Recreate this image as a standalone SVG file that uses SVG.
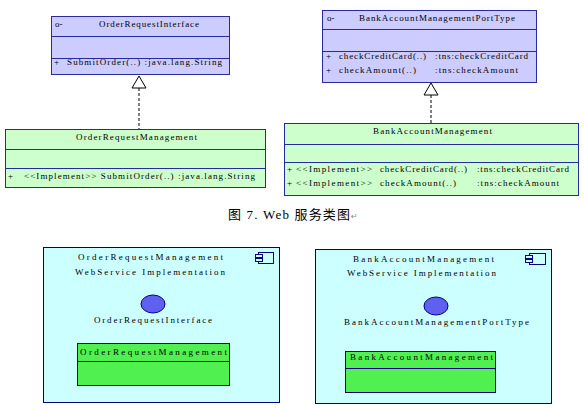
<svg xmlns="http://www.w3.org/2000/svg" width="584" height="410" viewBox="0 0 584 410">
<style>
.bg{fill:#ffffff}
.iface{fill:#ccccff;stroke:#2a2aa0;stroke-width:1}
.impl{fill:#ccffcc;stroke:#2a2aa0;stroke-width:1}
.sep{stroke:#2a2aa0;stroke-width:1}
.comp{fill:#ccffff;stroke:#000080;stroke-width:1}
.inner{fill:#50f050;stroke:#000080;stroke-width:1}
.ball{fill:#6060f0;stroke:#000080;stroke-width:1}
.icon{fill:#ccffff;stroke:#000080;stroke-width:1}
.t{font-family:"Liberation Serif","DejaVu Serif",serif;font-size:9px;fill:#000}
.cap{font-family:"Liberation Serif","Noto Sans CJK SC",serif;font-size:13px;fill:#000}
.conn{stroke:#000;stroke-width:1;fill:none}
.dash{stroke-dasharray:3,2}
.tri{fill:#fff;stroke:#000;stroke-width:1}
</style>
<rect class="bg" x="0" y="0" width="584" height="410"/>

<g id="OrderRequestInterface">
<rect class="iface" x="51.5" y="16.5" width="178" height="58"/>
<line class="sep" x1="51.5" y1="36.5" x2="229.5" y2="36.5"/>
<line class="sep" x1="51.5" y1="58.5" x2="229.5" y2="58.5"/>
<text class="t" x="55" y="27">o-</text>
<text class="t" x="99" y="27" textLength="100" lengthAdjust="spacing">OrderRequestInterface</text>
<text class="t" x="54" y="65">+</text>
<text class="t" x="67" y="65" textLength="155" lengthAdjust="spacing">SubmitOrder(..)  :java.lang.String</text>
</g>

<g id="OrderRequestManagement">
<rect class="impl" x="5.5" y="129.5" width="260" height="58"/>
<line class="sep" x1="5.5" y1="149.5" x2="265.5" y2="149.5"/>
<line class="sep" x1="5.5" y1="168.5" x2="265.5" y2="168.5"/>
<text class="t" x="76" y="140" textLength="121" lengthAdjust="spacing">OrderRequestManagement</text>
<text class="t" x="8" y="179">+</text>
<text class="t" x="24" y="179" textLength="231" lengthAdjust="spacing">&lt;&lt;Implement&gt;&gt;  SubmitOrder(..)  :java.lang.String</text>
</g>

<g id="BankAccountManagementPortType">
<rect class="iface" x="322.5" y="10.5" width="214" height="72"/>
<line class="sep" x1="322.5" y1="29.5" x2="536.5" y2="29.5"/>
<line class="sep" x1="322.5" y1="51.5" x2="536.5" y2="51.5"/>
<text class="t" x="327" y="21">o-</text>
<text class="t" x="359" y="21" textLength="156" lengthAdjust="spacing">BankAccountManagementPortType</text>
<text class="t" x="326" y="59">+</text>
<text class="t" x="339" y="59" textLength="87" lengthAdjust="spacing">checkCreditCard(..)</text>
<text class="t" x="435" y="59" textLength="93" lengthAdjust="spacing">:tns:checkCreditCard</text>
<text class="t" x="326" y="73">+</text>
<text class="t" x="339" y="73" textLength="77" lengthAdjust="spacing">checkAmount(..)</text>
<text class="t" x="435" y="73" textLength="83" lengthAdjust="spacing">:tns:checkAmount</text>
</g>

<g id="BankAccountManagement">
<rect class="impl" x="284.5" y="123.5" width="294" height="72"/>
<line class="sep" x1="284.5" y1="144.5" x2="578.5" y2="144.5"/>
<line class="sep" x1="284.5" y1="162.5" x2="578.5" y2="162.5"/>
<text class="t" x="373" y="134" textLength="119" lengthAdjust="spacing">BankAccountManagement</text>
<text class="t" x="287" y="172">+</text>
<text class="t" x="296" y="172" textLength="76" lengthAdjust="spacing">&lt;&lt;Implement&gt;&gt;</text>
<text class="t" x="380" y="172" textLength="87" lengthAdjust="spacing">checkCreditCard(..)</text>
<text class="t" x="477" y="172" textLength="92" lengthAdjust="spacing">:tns:checkCreditCard</text>
<text class="t" x="287" y="186">+</text>
<text class="t" x="296" y="186" textLength="76" lengthAdjust="spacing">&lt;&lt;Implement&gt;&gt;</text>
<text class="t" x="380" y="186" textLength="76" lengthAdjust="spacing">checkAmount(..)</text>
<text class="t" x="477" y="186" textLength="82" lengthAdjust="spacing">:tns:checkAmount</text>
</g>

<g id="connectors">
<line class="conn dash" x1="139" y1="88" x2="139" y2="129"/>
<polygon class="tri" points="139,76 132,88 146,88"/>
<line class="conn dash" x1="431" y1="95" x2="431" y2="123"/>
<polygon class="tri" points="431,83 424,95 438,95"/>
</g>

<g id="caption">
<text class="cap" x="228" y="219" textLength="122" lengthAdjust="spacing">图 7. Web 服务类图</text>
<text x="351" y="219" style="font-family:'DejaVu Sans',sans-serif;font-size:8px;fill:#888">↵</text>
</g>

<g id="OrderRequestManagementService">
<rect class="comp" x="43.5" y="247.5" width="236" height="155"/>
<rect class="icon" x="258.5" y="252.5" width="15" height="11"/>
<rect class="icon" x="255.5" y="254.5" width="7" height="3"/>
<rect class="icon" x="255.5" y="258.5" width="7" height="3"/>
<text class="t" x="78" y="260" textLength="145" lengthAdjust="spacing">OrderRequestManagement</text>
<text class="t" x="75" y="275" textLength="150" lengthAdjust="spacing">WebService Implementation</text>
<ellipse class="ball" cx="153" cy="304" rx="12" ry="9"/>
<text class="t" x="94" y="323" textLength="118" lengthAdjust="spacing">OrderRequestInterface</text>
<rect class="inner" x="77.5" y="343.5" width="152" height="42"/>
<line class="sep" x1="77.5" y1="361.5" x2="229.5" y2="361.5" style="stroke:#000080"/>
<text class="t" x="80" y="355" textLength="147" lengthAdjust="spacing">OrderRequestManagement</text>
</g>

<g id="BankAccountManagementService">
<rect class="comp" x="315.5" y="249.5" width="236" height="154"/>
<rect class="icon" x="529.5" y="253.5" width="16" height="11"/>
<rect class="icon" x="525.5" y="255.5" width="7" height="3"/>
<rect class="icon" x="525.5" y="259.5" width="7" height="3"/>
<text class="t" x="353" y="262" textLength="141" lengthAdjust="spacing">BankAccountManagement</text>
<text class="t" x="347" y="276" textLength="149" lengthAdjust="spacing">WebService Implementation</text>
<ellipse class="ball" cx="436" cy="306" rx="12" ry="9"/>
<text class="t" x="344" y="325" textLength="185" lengthAdjust="spacing">BankAccountManagementPortType</text>
<rect class="inner" x="345.5" y="351.5" width="150" height="41"/>
<line class="sep" x1="345.5" y1="368.5" x2="495.5" y2="368.5" style="stroke:#000080"/>
<text class="t" x="350" y="360" textLength="143" lengthAdjust="spacing">BankAccountManagement</text>
</g>
</svg>
